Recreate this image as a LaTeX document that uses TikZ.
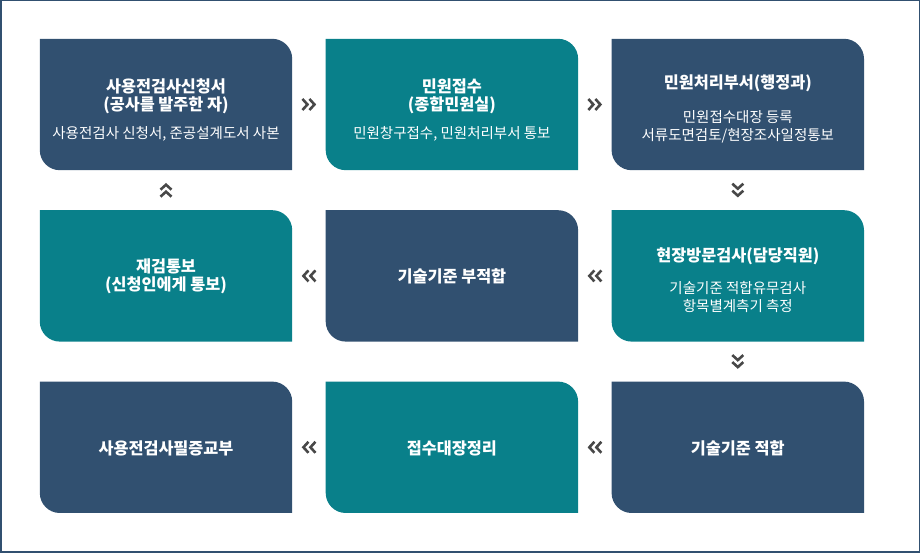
\documentclass[tikz,border=0pt]{standalone}
\usepackage{fontspec}
\newfontfamily\krfont{Noto Sans CJK KR}
\usetikzlibrary{positioning,calc,backgrounds}
\definecolor{gcnavy}{RGB}{49,80,112}
\definecolor{gcteal}{RGB}{9,128,138}
\definecolor{gcchev}{RGB}{72,72,72}
\newcommand{\ttl}[2][0pt]{{\fontsize{16.3}{19}\selectfont\bfseries\rule{0pt}{#1}#2}}
\newcommand{\cardbg}[2]{\fill[#2] (#1.north west) -- ([xshift=-20pt]#1.north east)
  arc[start angle=90,end angle=0,radius=20pt] -- (#1.south east) -- ([xshift=20pt]#1.south west)
  arc[start angle=270,end angle=180,radius=20pt] -- cycle;}

\begin{document}
\begin{tikzpicture}[x=1pt,y=1pt,font=\krfont\fontsize{14.5}{18}\selectfont,
    card/.style={minimum width=252pt,minimum height=131pt,inner sep=0pt,align=center,text=white},
    chevline/.style={gcchev,line width=2.6pt,miter limit=10},
    chev/.pic={\draw[chevline] (-6.5,5.5) -- (-1.5,0) -- (-6.5,-5.5) (0.5,5.5) -- (5.5,0) -- (0.5,-5.5);}]
  \useasboundingbox (0,0) rectangle (920,553);
  \draw[gcnavy,line width=1.5pt] (0.75,0.75) rectangle (919.25,552.25);
  \node[card] (apply) at (166,448.5) {\ttl[24pt]{사용전검사신청서}\\\ttl{(공사를 발주한 자)}\\[10pt]사용전검사 신청서, 준공설계도서 사본};
  \node[card,right=33.5pt of apply] (receipt) {\ttl[24pt]{민원접수}\\\ttl{(종합민원실)}\\[10pt]민원창구접수, 민원처리부서 통보};
  \node[card,right=33.5pt of receipt] (dept) {\ttl[22pt]{민원처리부서(행정과)}\\[16pt]민원접수대장 등록\\서류도면검토/현장조사일정통보};
  \node[card,below=40pt of dept] (visit) {\ttl[23pt]{현장방문검사(담당직원)}\\[14pt]기술기준 적합유무검사\\항목별계측기 측정};
  \node[card,left=33.5pt of visit] (fail) {\ttl[15pt]{기술기준 부적합}};
  \node[card,left=33.5pt of fail] (notice) {\ttl{재검통보}\\\ttl{(신청인에게 통보)}};
  \node[card,below=40pt of visit] (pass) {\ttl[15pt]{기술기준 적합}};
  \node[card,left=33.5pt of pass] (ledger) {\ttl[15pt]{접수대장정리}};
  \node[card,left=33.5pt of ledger] (issue) {\ttl[15pt]{사용전검사필증교부}};
  \begin{scope}[on background layer]
    \foreach \n/\c in {apply/gcnavy,receipt/gcteal,dept/gcnavy,notice/gcteal,fail/gcnavy,visit/gcteal,issue/gcnavy,ledger/gcteal,pass/gcnavy}
      {\cardbg{\n}{\c}}
  \end{scope}
  \foreach \from/\to/\ang in {apply/receipt/0,receipt/dept/0,dept/visit/-90,visit/fail/180,fail/notice/180,
      notice/apply/90,visit/pass/-90,pass/ledger/180,ledger/issue/180}
    {\pic[rotate=\ang] at ($(\from)!.5!(\to)$) {chev};}
\end{tikzpicture}
\end{document}
